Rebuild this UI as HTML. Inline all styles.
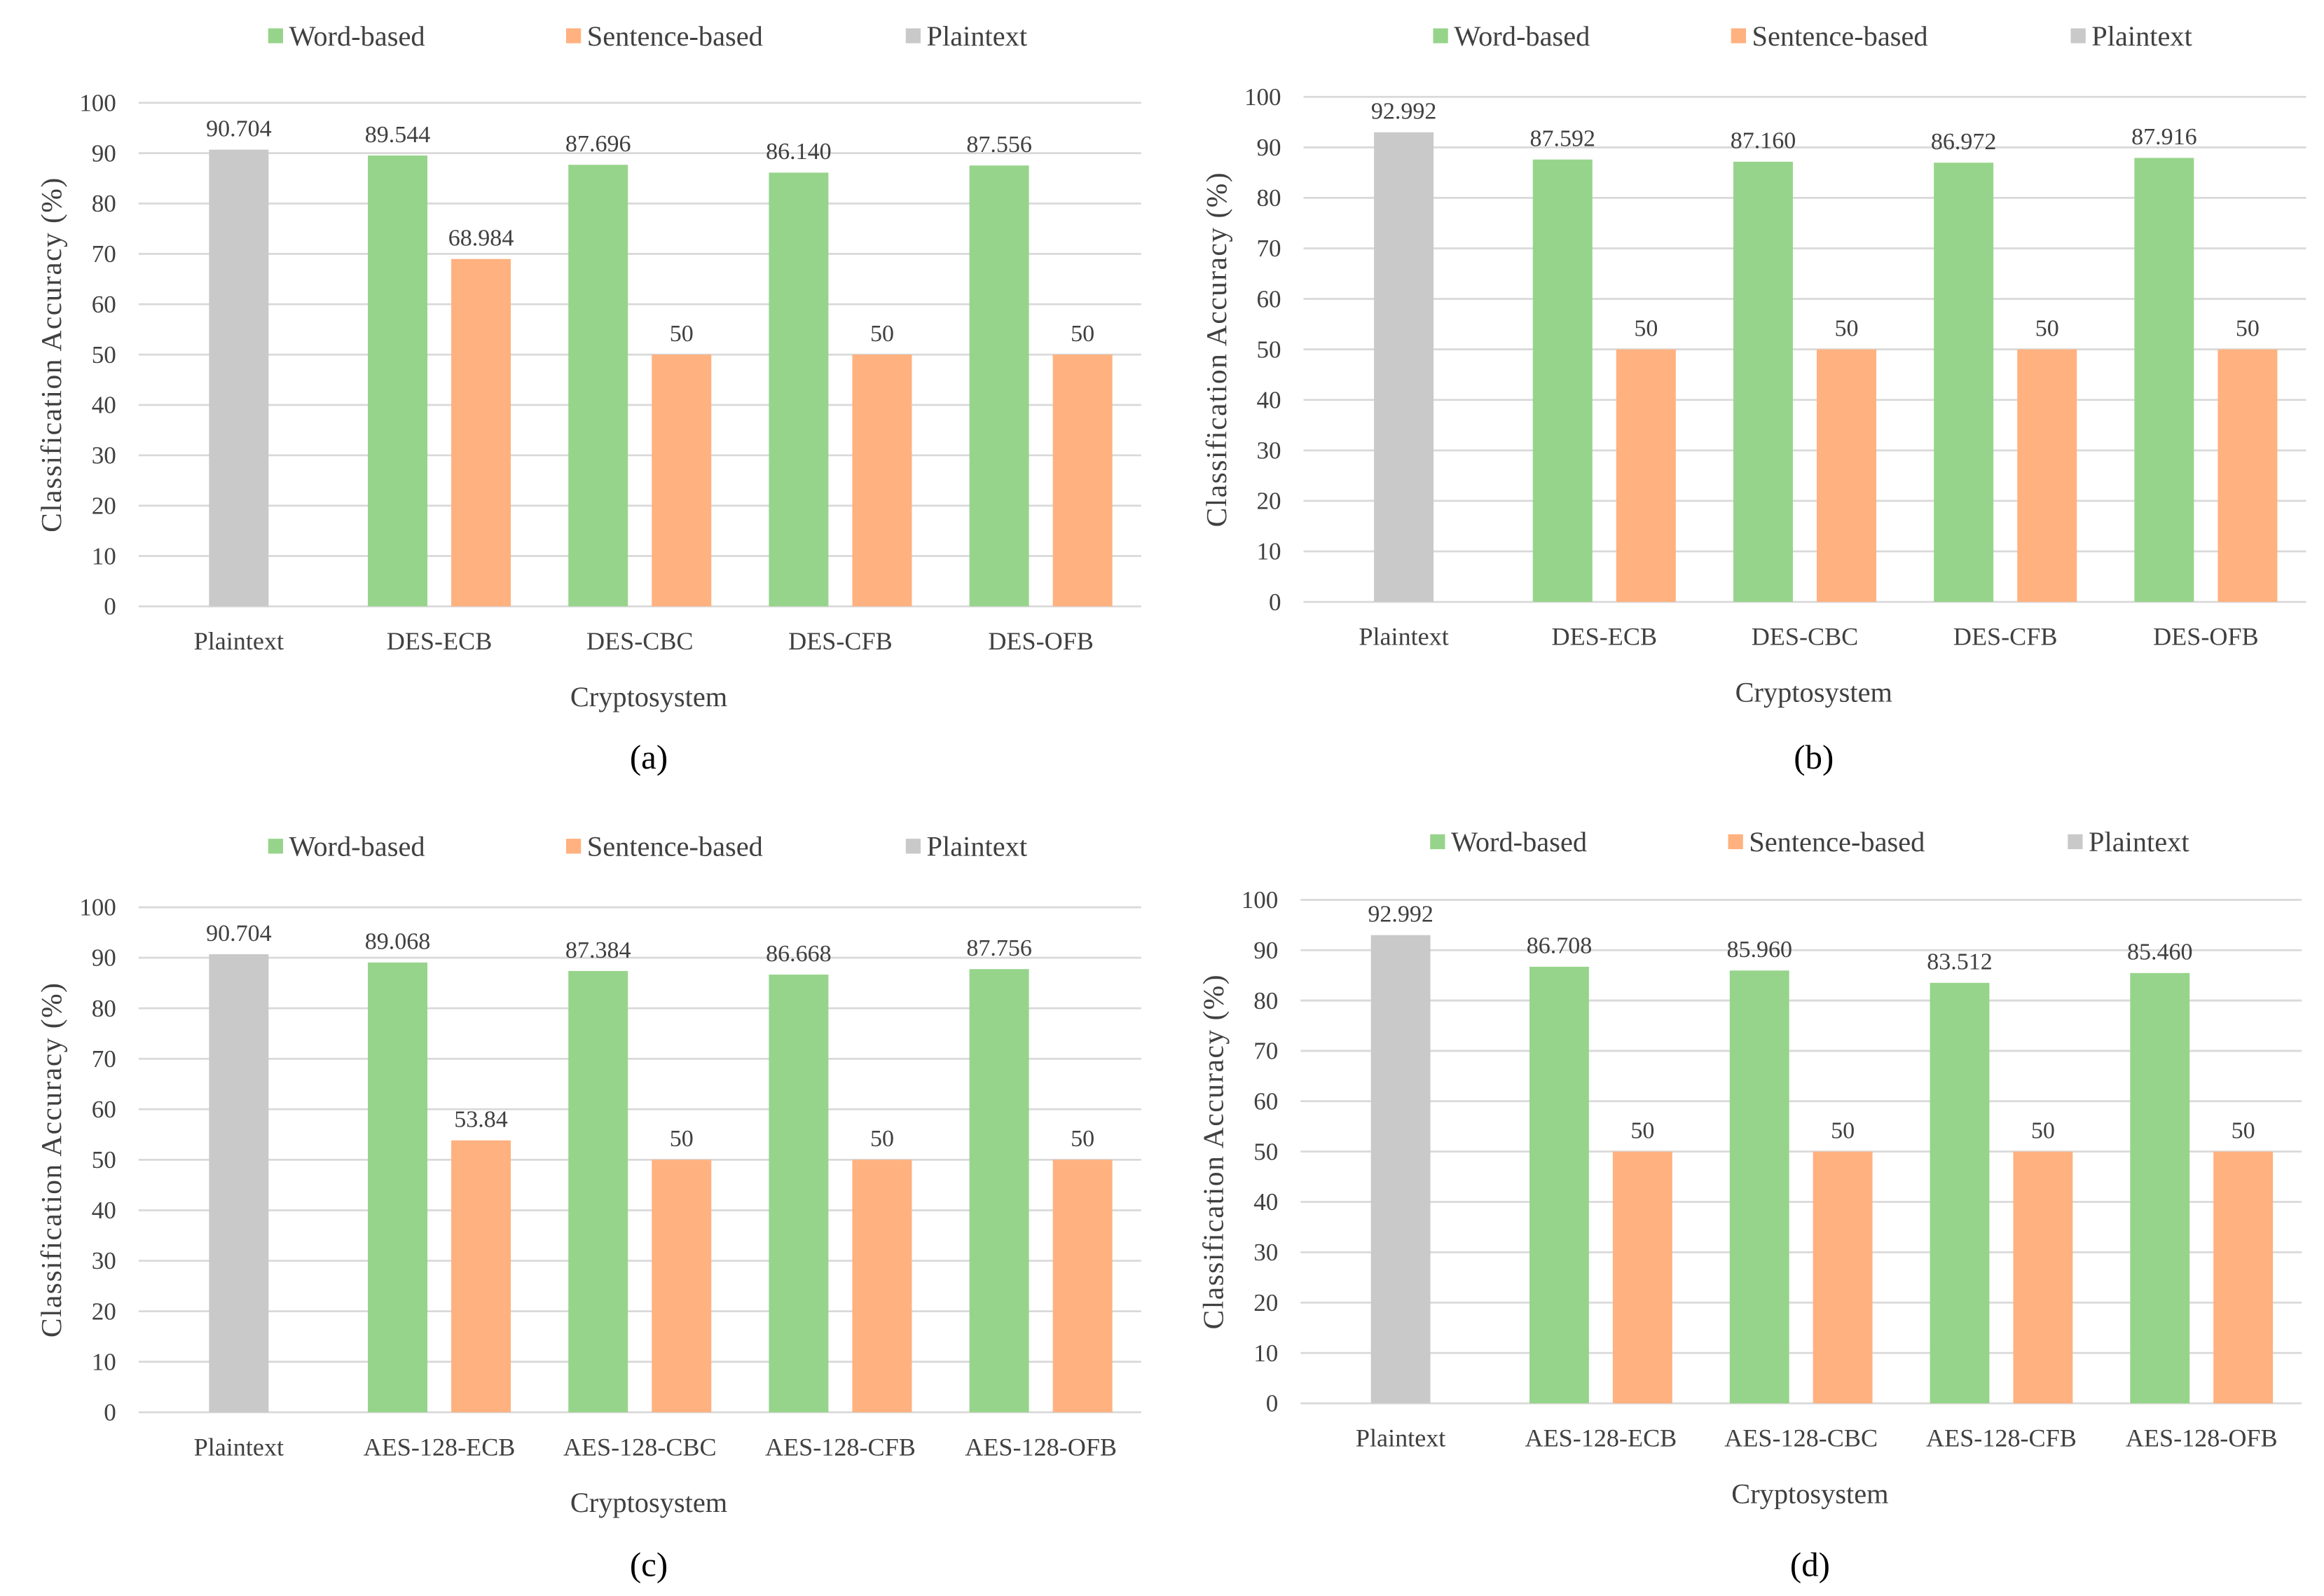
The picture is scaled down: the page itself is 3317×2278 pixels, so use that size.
<!DOCTYPE html>
<html><head><meta charset="utf-8"><style>
html,body{margin:0;padding:0;background:#fff;}
svg{display:block;font-family:"Liberation Serif","Times New Roman",serif;}
</style></head><body>
<svg id="fig" width="3317" height="2278" viewBox="0 0 1560 1071.3" xmlns="http://www.w3.org/2000/svg"></svg>
<script>
const catsDES = ["Plaintext","DES-ECB","DES-CBC","DES-CFB","DES-OFB"];
const catsAES = ["Plaintext","AES-128-ECB","AES-128-CBC","AES-128-CFB","AES-128-OFB"];
const plainA = 90.704;
const wordA = [89.544, 87.696, 86.140, 87.556];
const sentA = [68.984, 50, 50, 50];
const plainB = 92.992;
const wordB = [87.592, 87.160, 86.972, 87.916];
const sentB = [50, 50, 50, 50];
const plainC = 90.704;
const wordC = [89.068, 87.384, 86.668, 87.756];
const sentC = [53.84, 50, 50, 50];
const plainD = 92.992;
const wordD = [86.708, 85.960, 83.512, 85.460];
const sentD = [50, 50, 50, 50];
const labA = ["90.704","89.544","87.696","86.140","87.556","68.984","50","50","50"];
const labB = ["92.992","87.592","87.160","86.972","87.916","50","50","50","50"];
const labC = ["90.704","89.068","87.384","86.668","87.756","53.84","50","50","50"];
const labD = ["92.992","86.708","85.960","83.512","85.460","50","50","50","50"];
const yTicks = [0,10,20,30,40,50,60,70,80,90,100];

const NS = "http://www.w3.org/2000/svg";
const svg = document.getElementById("fig");
function mk(tag, attrs, parent, text){
  const e = document.createElementNS(NS, tag);
  for (const k in attrs) e.setAttribute(k, attrs[k]);
  if (text !== undefined) e.textContent = text;
  parent.appendChild(e);
  return e;
}
const GREEN="#97d48b", ORANGE="#ffb17f", GRAY="#c9c9c9", TXT="#404040";

function panel(id, x0, x1, yT, yB, cats, plain, word, sent, labs, legDy, capDy, cap){
  const g = mk("g", {}, svg);
  
  
  const yS = v => yB - (yB - yT) * v / 100;
  const cw = (x1 - x0) / cats.length;
  const xC = i => x0 + cw * (i + 0.5);
  const bw = cw * 0.297, off = cw * 0.208;
  yTicks.forEach(t => {
    const l = mk("line", {x1:x0, x2:x1, y1:yS(t), y2:yS(t), stroke:"#d9d9d9", "stroke-width":1.3}, g);
    
    
    const tx = mk("text", {x:x0-15, y:yS(t)+5.5, "text-anchor":"end", "font-size":16.5, fill:TXT}, g, String(t));
    
    
  });
  const pb = mk("rect", {x:xC(0)-bw/2, y:yS(plain), width:bw, height:yB-yS(plain), fill:GRAY}, g);
  
  
  const pl = mk("text", {x:xC(0), y:yS(plain)-9, "text-anchor":"middle", "font-size":16, fill:TXT}, g, labs[0]);
  
  
  for (let i = 0; i < word.length; i++){
    const cx = xC(i+1);
    const wb = mk("rect", {x:cx-off-bw/2, y:yS(word[i]), width:bw, height:yB-yS(word[i]), fill:GREEN}, g);
    
    
    const wl = mk("text", {x:cx-off, y:yS(word[i])-9, "text-anchor":"middle", "font-size":16, fill:TXT}, g, labs[1+i]);
    
    
    const sb = mk("rect", {x:cx+off-bw/2, y:yS(sent[i]), width:bw, height:yB-yS(sent[i]), fill:ORANGE}, g);
    
    
    const sl = mk("text", {x:cx+off, y:yS(sent[i])-9, "text-anchor":"middle", "font-size":16, fill:TXT}, g, labs[5+i]);
    
    
  }
  cats.forEach((c, i) => {
    const t = mk("text", {x:xC(i), y:yB+29, "text-anchor":"middle", "font-size":17, fill:TXT}, g, c);
    
    
  });
  const xm = (x0+x1)/2 + 6;
  const xt = mk("text", {x:xm, y:yB+67, "text-anchor":"middle", "font-size":19, fill:TXT}, g, "Cryptosystem");
  
  
  const ym = (yT+yB)/2, yx = x0-52;
  const yt = mk("text", {x:yx, y:ym, "text-anchor":"middle", "font-size":19.5, fill:TXT, transform:`rotate(-90 ${yx} ${ym})`, "letter-spacing":0.7}, g, "Classification Accuracy (%)");
  
  
  const cp = mk("text", {x:xm, y:yB+capDy, "text-anchor":"middle", "font-size":23, fill:"#000"}, g, cap);
  
  
  const ly = yT + legDy;
  [["Word-based",GREEN,92],["Sentence-based",ORANGE,292],["Plaintext",GRAY,520]].forEach(([n,c,dx]) => {
    const lg = mk("g", {}, g);
    
    
    mk("rect", {x:x0+dx-5, y:ly-5, width:10, height:10, fill:c}, lg);
    mk("text", {x:x0+dx+9, y:ly+6.5, "font-size":19, fill:TXT}, lg, n);
  });
}
panel("a", 93, 766, 69, 407, catsDES, plainA, wordA, sentA, labA, -45, 109, "(a)");
panel("b", 875, 1548, 65, 404, catsDES, plainB, wordB, sentB, labB, -41, 112, "(b)");
panel("c", 93, 766, 609, 948, catsAES, plainC, wordC, sentC, labC, -41, 110, "(c)");
panel("d", 873, 1545, 604, 942, catsAES, plainD, wordD, sentD, labD, -39, 116, "(d)");
</script>
</body></html>
